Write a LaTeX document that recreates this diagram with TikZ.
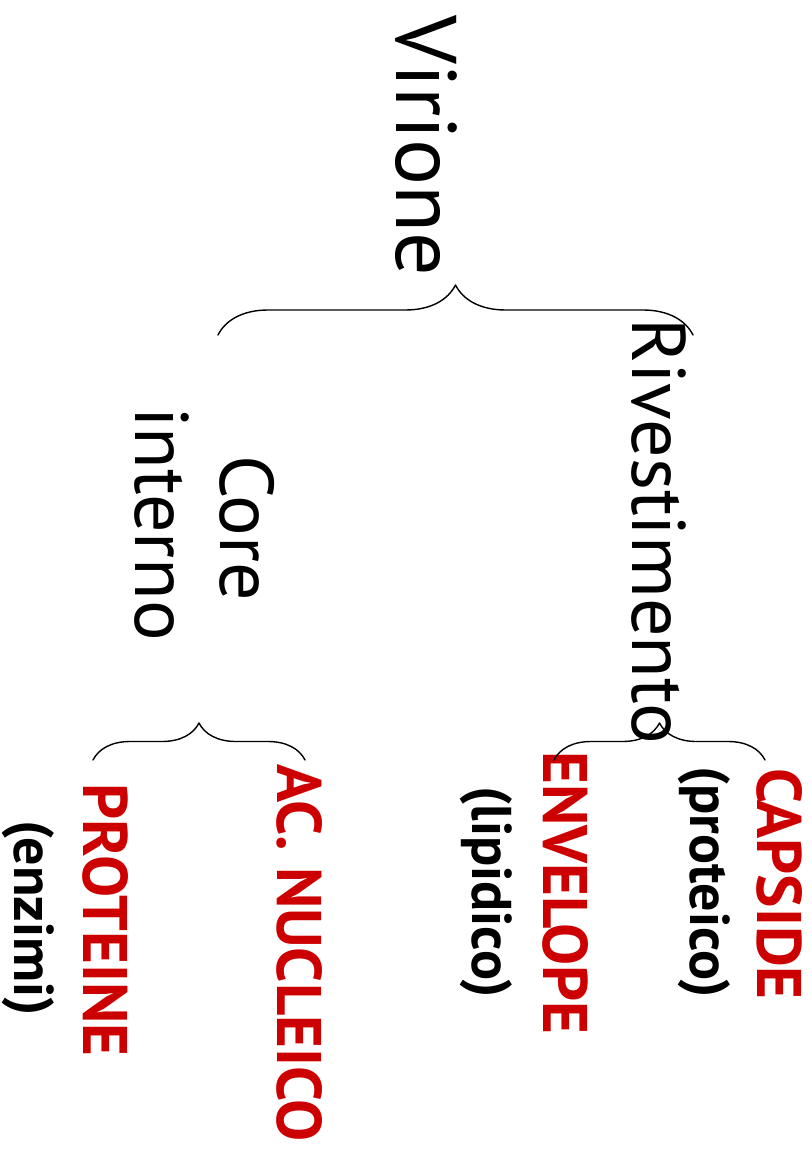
\documentclass[tikz,border=0pt]{standalone}
\usepackage{fontspec}
\setmainfont{PT Sans}
\usetikzlibrary{decorations.pathreplacing}
\definecolor{Tred}{RGB}{204,0,0}

\begin{document}
\begin{tikzpicture}[x=1pt,y=1pt,line cap=round,line join=round,
  big/.style={rotate=-90,anchor=base,inner sep=0pt,font=\fontsize{76}{80}\selectfont},
  part/.style={rotate=-90,anchor=base,inner sep=0pt,text=Tred,font=\bfseries\fontsize{63}{66}\selectfont},
  note/.style={rotate=-90,anchor=base,inner sep=0pt,font=\bfseries\fontsize{56}{60}\selectfont},
  grp/.style={decorate,decoration={brace,amplitude=#1},line width=1.4pt}]
\path[use as bounding box] (0,0) rectangle (811,-1155);
% top level
\node[big,font=\fontsize{86}{90}\selectfont] (virione) at (396,-146) {Virione};
\node[big] (rivest) at (632,-531) {Rivestimento};
\node[big] (core) at (220,-528) {Core};
\node[big] (interno) at (135,-524) {interno};
% parts
\node[part] (capside) at (757,-884) {CAPSIDE};
\node[note] (proteico) at (690,-882) {(proteico)};
\node[part] (envelope) at (543,-893) {ENVELOPE};
\node[note] (lipidico) at (472,-892) {(lipidico)};
\node[part] (acido) at (277,-953) {AC. NUCLEICO};
\node[part] (proteine) at (83,-920) {PROTEINE};
\node[note] (enzimi) at (14,-918) {(enzimi)};
% brace ends
\coordinate (b1l) at (218,-335);
\coordinate (b1r) at (693,-335);
\coordinate (b2l) at (93,-760);
\coordinate (b2r) at (305,-760);
\coordinate (b3l) at (554,-760);
\coordinate (b3r) at (765,-760);
\draw[grp=50] (b1l) -- (b1r);
\draw[grp=37] (b2l) -- (b2r);
\draw[grp=37] (b3l) -- (b3r);
\end{tikzpicture}
\end{document}
